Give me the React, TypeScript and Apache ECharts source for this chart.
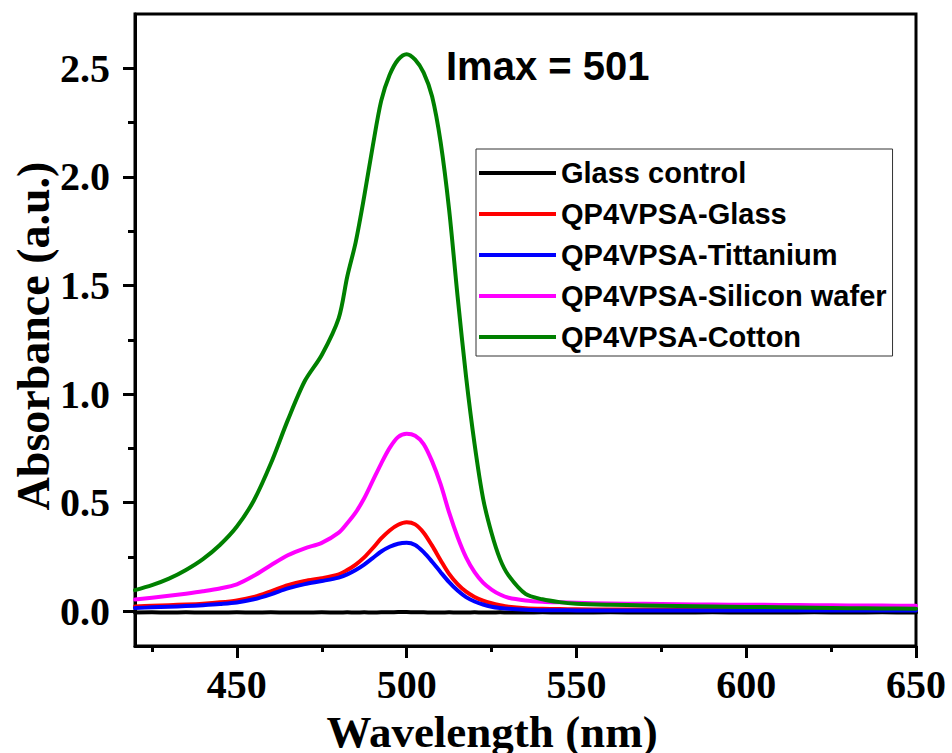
import React, { useEffect, useRef } from "react";
import * as echarts from "echarts";

const wavelengths = [
  420, 425, 430, 435, 440, 445, 450, 455, 460, 465, 470, 475, 480,
  482.5, 485, 487.5, 490, 492.5, 495, 497.5, 500, 502.5, 505, 507.5, 510,
  512.5, 515, 517.5, 520, 522.5, 525, 527.5, 530,
  535, 540, 545, 550,
  560, 570, 580, 590, 600, 610, 620, 630, 640, 650,
];

const glassControl = [
  -0.006, -0.005, -0.006, -0.005, -0.006, -0.006, -0.005, -0.006, -0.005, -0.006, -0.006, -0.005, -0.006,
  -0.005, -0.006, -0.005, -0.006, -0.005, -0.005, -0.004, -0.004, -0.005, -0.005, -0.006, -0.006,
  -0.005, -0.006, -0.006, -0.005, -0.006, -0.006, -0.005, -0.006,
  -0.006, -0.005, -0.006, -0.006,
  -0.005, -0.006, -0.006, -0.005, -0.006, -0.006, -0.005, -0.006, -0.005, -0.006,
];

const glass = [
  0.022, 0.025, 0.028, 0.031, 0.035, 0.041, 0.05, 0.066, 0.092, 0.12, 0.139, 0.152, 0.17,
  0.19, 0.215, 0.248, 0.29, 0.335, 0.372, 0.398, 0.41, 0.4, 0.362, 0.302, 0.235,
  0.172, 0.125, 0.09, 0.066, 0.049, 0.037, 0.028, 0.021,
  0.014, 0.011, 0.01, 0.009,
  0.008, 0.008, 0.008, 0.007, 0.007, 0.007, 0.007, 0.006, 0.006, 0.006,
];

const titanium = [
  0.015, 0.018, 0.021, 0.024, 0.028, 0.033, 0.04, 0.055, 0.078, 0.105, 0.125, 0.139, 0.155,
  0.17, 0.19, 0.215, 0.245, 0.275, 0.297, 0.311, 0.315, 0.305, 0.272, 0.228, 0.18,
  0.134, 0.095, 0.065, 0.045, 0.031, 0.021, 0.015, 0.011,
  0.007, 0.005, 0.005, 0.004,
  0.004, 0.004, 0.004, 0.004, 0.003, 0.003, 0.003, 0.003, 0.003, 0.003,
];

const silicon = [
  0.054, 0.062, 0.071, 0.081, 0.092, 0.105, 0.124, 0.163, 0.212, 0.258, 0.29, 0.315, 0.362,
  0.405, 0.455, 0.52, 0.6, 0.68, 0.752, 0.802, 0.817, 0.808, 0.77, 0.69, 0.585,
  0.455, 0.342, 0.248, 0.18, 0.132, 0.1, 0.077, 0.062,
  0.05, 0.044, 0.041, 0.039,
  0.036, 0.034, 0.032, 0.031, 0.03, 0.029, 0.028, 0.027, 0.026, 0.025,
];

const cotton = [
  0.097, 0.12, 0.15, 0.19, 0.24, 0.305, 0.39, 0.51, 0.68, 0.88, 1.06, 1.18, 1.35,
  1.54, 1.7, 1.91, 2.14, 2.35, 2.47, 2.54, 2.565, 2.54, 2.48, 2.37, 2.16,
  1.85, 1.45, 1.08, 0.77, 0.52, 0.36, 0.24, 0.165,
  0.08, 0.055, 0.042, 0.035,
  0.03, 0.027, 0.024, 0.022, 0.02, 0.018, 0.016, 0.014, 0.013, 0.012,
];

const seriesNames = [
  "Glass control",
  "QP4VPSA-Glass",
  "QP4VPSA-Tittanium",
  "QP4VPSA-Silicon wafer",
  "QP4VPSA-Cotton",
];
const seriesColors = ["#000000", "#ff0000", "#0000ff", "#ff00ff", "#008000"];
const seriesValues = [glassControl, glass, titanium, silicon, cotton];

const xMajorTicks = [450, 500, 550, 600, 650];
const xMinorTicks = [425, 475, 525, 575, 625];
const yMajorTicks = [0, 0.5, 1, 1.5, 2, 2.5];
const yMinorTicks = [0.25, 0.75, 1.25, 1.75, 2.25];

const xTitle = "Wavelength (nm)";
const yTitle = "Absorbance (a.u.)";
const annotation = "Imax = 501";

const SERIF = "'Liberation Serif', 'Times New Roman', serif";
const SANS = "'Liberation Sans', Arial, sans-serif";

export default function App() {
  const ref = useRef<HTMLDivElement>(null);

  useEffect(() => {
    if (!ref.current) return;
    const chart = echarts.init(ref.current, undefined, { renderer: "svg" });

    const X_MIN = 420;
    const X_MAX = 650;
    const Y_MIN = -0.16;
    const Y_MAX = 2.75;

    const axisLineStyle = { color: "#000", width: 3 };

    const option: any = {
      animation: false,
      backgroundColor: "#ffffff",
      grid: {
        left: 135,
        right: 36,
        top: 14,
        bottom: 107,
        show: true,
        borderColor: "#000",
        borderWidth: 3,
        backgroundColor: "transparent",
      },
      xAxis: [
        {
          type: "value",
          position: "bottom",
          min: X_MIN,
          max: X_MAX,
          axisLine: { show: true, onZero: false, lineStyle: axisLineStyle },
          axisTick: {
            show: true,
            inside: false,
            length: 12,
            lineStyle: { color: "#000", width: 3 },
            customValues: xMajorTicks,
          },
          axisLabel: {
            show: true,
            customValues: xMajorTicks,
            margin: 18,
            color: "#000",
            fontFamily: SERIF,
            fontWeight: "bold",
            fontSize: 40,
          },
          splitLine: { show: false },
        },
        {
          type: "value",
          position: "bottom",
          min: X_MIN,
          max: X_MAX,
          axisLine: { show: false, onZero: false },
          axisTick: {
            show: true,
            inside: false,
            length: 6,
            lineStyle: { color: "#000", width: 3 },
            customValues: xMinorTicks,
          },
          axisLabel: { show: false },
          splitLine: { show: false },
        },
      ],
      yAxis: [
        {
          type: "value",
          position: "left",
          min: Y_MIN,
          max: Y_MAX,
          axisLine: { show: true, onZero: false, lineStyle: axisLineStyle },
          axisTick: {
            show: true,
            inside: false,
            length: 12,
            lineStyle: { color: "#000", width: 3 },
            customValues: yMajorTicks,
          },
          axisLabel: {
            show: true,
            customValues: yMajorTicks,
            margin: 25,
            color: "#000",
            fontFamily: SERIF,
            fontWeight: "bold",
            fontSize: 40,
            formatter: (v: number) => v.toFixed(1),
          },
          splitLine: { show: false },
        },
        {
          type: "value",
          position: "left",
          min: Y_MIN,
          max: Y_MAX,
          axisLine: { show: false, onZero: false },
          axisTick: {
            show: true,
            inside: false,
            length: 7,
            lineStyle: { color: "#000", width: 3 },
            customValues: yMinorTicks,
          },
          axisLabel: { show: false },
          splitLine: { show: false },
        },
      ],
      legend: {
        data: seriesNames,
        orient: "vertical",
        left: 476,
        top: 149,
        padding: [9, 6, 4, 3],
        icon: "rect",
        itemWidth: 77,
        itemHeight: 4,
        itemGap: 11,
        backgroundColor: "#ffffff",
        borderColor: "#333",
        borderWidth: 1,
        borderRadius: 0,
        selectedMode: false,
        textStyle: {
          fontFamily: SANS,
          fontWeight: "bold",
          fontSize: 29,
          lineHeight: 30,
          color: "#000",
        },
      },
      series: seriesNames.map((name, i) => ({
        name,
        type: "line",
        xAxisIndex: 0,
        yAxisIndex: 0,
        symbol: "none",
        showSymbol: false,
        smooth: 0.3,
        color: seriesColors[i],
        itemStyle: { color: seriesColors[i] },
        lineStyle: { color: seriesColors[i], width: 4, cap: "round", join: "round" },
        data: wavelengths.map((w, j) => [w, seriesValues[i][j]]),
        z: 2 + i,
      })),
      graphic: [
        {
          type: "text",
          x: 446,
          y: 66,
          z: 100,
          style: {
            text: annotation,
            fill: "#000",
            font: `bold 40px ${SANS}`,
            align: "left",
            verticalAlign: "middle",
          },
        },
        {
          type: "text",
          x: 492,
          y: 732,
          z: 100,
          style: {
            text: xTitle,
            fill: "#000",
            font: `bold 45px ${SERIF}`,
            align: "center",
            verticalAlign: "middle",
          },
        },
        {
          type: "text",
          x: 33,
          y: 336,
          rotation: Math.PI / 2,
          z: 100,
          style: {
            text: yTitle,
            fill: "#000",
            font: `bold 46px ${SERIF}`,
            align: "center",
            verticalAlign: "middle",
          },
        },
      ],
    };

    chart.setOption(option);
    return () => chart.dispose();
  }, []);

  return (
    <div
      ref={ref}
      style={{
        position: "fixed",
        left: 0,
        top: 0,
        width: 952,
        height: 753,
        background: "#ffffff",
      }}
    />
  );
}
